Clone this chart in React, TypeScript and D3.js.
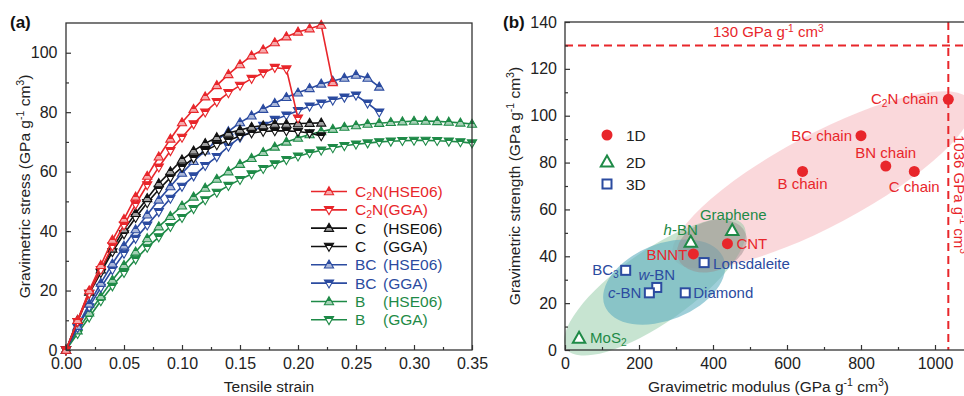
import { useEffect, useRef } from 'react';
import * as d3 from 'd3';

// ---------- panel (a): stress-strain curves ----------
const strain = [
  0, 0.01, 0.02, 0.03, 0.04, 0.05, 0.06, 0.07, 0.08, 0.09, 0.1, 0.11, 0.12, 0.13, 0.14, 0.15, 0.16, 0.17,
  0.18, 0.19, 0.2, 0.21, 0.22, 0.23, 0.24, 0.25, 0.26, 0.27, 0.28, 0.29, 0.3, 0.31, 0.32, 0.33, 0.34, 0.35,
];

const c2nHse = [0, 10, 20, 28.5, 37, 44, 51.5, 58.5, 65, 71, 76.5, 81, 85.2, 89, 92.7, 96, 99, 101, 103.4, 105.4, 107, 108.1, 109.3, 90];
const c2nGga = [0, 9.5, 19, 27, 35, 42, 49, 55.5, 61.5, 67, 71.5, 76, 80, 83.5, 86.5, 89, 91.3, 93.2, 95, 94.5, 78];
const cHse = [0, 10, 19.5, 27, 34, 40.5, 46, 51, 56, 60, 64, 67, 69.5, 71.5, 73, 74, 75, 75.5, 76, 76, 76.2, 76.3, 76.4];
const cGga = [0, 9.5, 19, 26, 33, 39, 44.5, 49.5, 54, 58, 61.5, 64.5, 67, 69, 70.5, 72, 73, 73.5, 73.7, 73.7, 73.5, 73, 72];
const bcHse = [0, 8, 15.5, 22.5, 29, 35, 40.5, 45.5, 50.5, 55, 59.5, 63.5, 67, 70.5, 73.5, 76.5, 78.8, 81, 83, 85, 86.5, 88, 89.5, 90.5, 91.5, 92.5, 91.5, 88.5];
const bcGga = [0, 7.5, 14.5, 21, 27, 32.5, 37.5, 42, 46.5, 51, 55, 58.5, 62, 65, 68.5, 71.5, 73.5, 75.5, 77.5, 79, 80.5, 82, 83, 84, 85, 85.7, 83, 80];
const bHse = [0, 6.5, 12.5, 18, 23.5, 28.5, 33, 37.5, 41.5, 45, 48.5, 51.5, 54.5, 57.5, 60, 62.5, 64.5, 66.5, 68.3, 70, 71.3, 72.5, 73.5, 74.3, 75, 75.5, 76, 76.3, 76.6, 76.8, 77, 77, 76.9, 76.7, 76.4, 76];
const bGga = [0, 5.5, 11, 16.5, 21.5, 26, 30.5, 34.5, 38, 41.5, 44.5, 47.5, 50.5, 53, 55.3, 57.3, 59.2, 61, 62.6, 64, 65.2, 66.3, 67.2, 68, 68.7, 69.2, 69.6, 70, 70.2, 70.4, 70.5, 70.5, 70.4, 70.2, 70, 69.6];

const xTicksA = [0, 0.05, 0.1, 0.15, 0.2, 0.25, 0.3, 0.35];
const xMinorA = [0.025, 0.075, 0.125, 0.175, 0.225, 0.275, 0.325];
const yTicksA = [0, 20, 40, 60, 80, 100];
const yMinorA = [10, 30, 50, 70, 90];

// ---------- panel (b): strength vs modulus ----------
const names1D = ['C_{2}N chain', 'BC chain', 'BN chain', 'C chain', 'B chain', 'CNT', 'BNNT'];
const modulus1D = [1036, 800, 867, 944, 642, 439, 347];
const strength1D = [107, 91.5, 78.5, 76.2, 76.2, 45.4, 41];

const names2D = ['Graphene', '*{h}-BN', 'MoS_{2}'];
const modulus2D = [452, 340, 38];
const strength2D = [51, 46, 5];

const names3D = ['Lonsdaleite', 'BC_{3}', '*{w}-BN', '*{c}-BN', 'Diamond'];
const modulus3D = [376, 164, 248, 228, 325];
const strength3D = [37.3, 34, 26.7, 24.4, 24.4];

const xTicksB = [0, 200, 400, 600, 800, 1000];
const xMinorB = [100, 300, 500, 700, 900, 1100];
const yTicksB = [0, 20, 40, 60, 80, 100, 120, 140];
const yMinorB = [10, 30, 50, 70, 90, 110, 130];

const strengthLimit = 130;
const modulusLimit = 1036;

const RED = '#e8262b';
const BLACK = '#111111';
const BLUE = '#2b4ba0';
const GREEN = '#1e8a47';
const FONT = '"Liberation Sans", Arial, Helvetica, sans-serif';

// label placement (dx, dy, anchor) for panel b points
const place1D: [number, number, string][] = [
  [-10, 5, 'end'], [-9, 5, 'end'], [0, -8, 'middle'], [0, 21, 'middle'], [0, 18, 'middle'], [9, 5, 'start'], [-6, 6, 'end'],
];
const place2D: [number, number, string][] = [[1, -11, 'middle'], [7, -7, 'end'], [11, 5, 'start']];
const place3D: [number, number, string][] = [[9, 6, 'start'], [-7, 5, 'end'], [0, -7, 'middle'], [-8, 5, 'end'], [8, 5, 'start']];

// rich text: ^{sup} _{sub} *{italic}
function rich(text: any, s: string, size: number) {
  const re = /([\^_*])\{([^}]*)\}/g;
  let last = 0;
  let shift = 0;
  let m: RegExpExecArray | null;
  const push = (t: string, kind: string) => {
    const ts = text.append('tspan').text(t);
    const target = kind === '^' ? -0.38 * size : kind === '_' ? 0.2 * size : 0;
    if (target !== shift) {
      ts.attr('dy', target - shift);
      shift = target;
    }
    if (kind === '^' || kind === '_') ts.attr('font-size', size * 0.68);
    if (kind === '*') ts.attr('font-style', 'italic');
  };
  while ((m = re.exec(s))) {
    if (m.index > last) push(s.slice(last, m.index), '');
    push(m[2], m[1]);
    last = re.lastIndex;
  }
  if (last < s.length) push(s.slice(last), '');
}

function styleAxis(g: any, size: number) {
  g.select('.domain').remove();
  g.selectAll('line').attr('stroke', '#333').attr('stroke-width', 1.2);
  g.selectAll('text').attr('font-size', size).attr('font-family', FONT).attr('fill', '#222');
}

const triUp = 'M0,-4.8L4.6,3.2L-4.6,3.2Z';
const triDown = 'M0,4.8L4.6,-3.2L-4.6,-3.2Z';

export default function App() {
  const svgRef = useRef<SVGSVGElement>(null);

  useEffect(() => {
    if (!svgRef.current) return;
    const svg = d3.select(svgRef.current);
    svg.selectAll('*').remove();
    svg.attr('font-family', FONT);
    const defs = svg.append('defs');

    // half-filled marker gradients
    const gradId = (c: string, kind: string) => `g-${kind}-${c.slice(1)}`;
    [RED, BLACK, BLUE, GREEN].forEach((c) => {
      const up = defs.append('linearGradient').attr('id', gradId(c, 'up')).attr('x1', 0).attr('y1', 0).attr('x2', 0).attr('y2', 1);
      up.append('stop').attr('offset', 0.55).attr('stop-color', c);
      up.append('stop').attr('offset', 0.55).attr('stop-color', d3.interpolateRgb(c, '#fff')(0.6));
      const dn = defs.append('linearGradient').attr('id', gradId(c, 'down')).attr('x1', 0).attr('y1', 0).attr('x2', 0).attr('y2', 1);
      dn.append('stop').attr('offset', 0.35).attr('stop-color', c);
      dn.append('stop').attr('offset', 0.35).attr('stop-color', '#fff');
    });

    // ================= panel (a) =================
    const xA = d3.scaleLinear().domain([0, 0.35]).range([66, 472]);
    const yA = d3.scaleLinear().domain([0, 110]).range([350, 23]);

    const seriesA = [
      { label: 'C_{2}N', method: '(HSE06)', values: c2nHse, color: RED, up: true, joined: true },
      { label: 'C_{2}N', method: '(GGA)', values: c2nGga, color: RED, up: false, joined: true },
      { label: 'C', method: '(HSE06)', values: cHse, color: BLACK, up: true, joined: false },
      { label: 'C', method: '(GGA)', values: cGga, color: BLACK, up: false, joined: false },
      { label: 'BC', method: '(HSE06)', values: bcHse, color: BLUE, up: true, joined: false },
      { label: 'BC', method: '(GGA)', values: bcGga, color: BLUE, up: false, joined: false },
      { label: 'B', method: '(HSE06)', values: bHse, color: GREEN, up: true, joined: false },
      { label: 'B', method: '(GGA)', values: bGga, color: GREEN, up: false, joined: false },
    ];

    const line = d3
      .line<number>()
      .x((_, i) => xA(strain[i]))
      .y((d) => yA(d));

    const marker = (g: any, x: number, y: number, color: string, up: boolean) => {
      g.append('path')
        .attr('d', up ? triUp : triDown)
        .attr('transform', `translate(${x},${y})`)
        .attr('fill', `url(#${gradId(color, up ? 'up' : 'down')})`)
        .attr('stroke', color)
        .attr('stroke-width', 1.1);
    };

    const plotA = svg.append('g');
    [...seriesA].reverse().forEach((s) => {
      const g = plotA.append('g');
      g.append('path')
        .attr('d', line(s.values))
        .attr('fill', 'none')
        .attr('stroke', s.color)
        .attr('stroke-width', 1.6);
      s.values.forEach((v, i) => marker(g, xA(strain[i]), yA(v), s.color, s.up));
    });

    // axes (a)
    svg.append('g').attr('transform', 'translate(0,350)')
      .call(d3.axisBottom(xA).tickValues(xTicksA).tickFormat(d3.format('.2f')).tickSizeInner(-5).tickSizeOuter(0).tickPadding(8))
      .call((g: any) => styleAxis(g, 16));
    svg.append('g').attr('transform', 'translate(0,350)')
      .call(d3.axisBottom(xA).tickValues(xMinorA).tickFormat(() => '').tickSizeInner(-3).tickSizeOuter(0))
      .call((g: any) => styleAxis(g, 16));
    svg.append('g').attr('transform', 'translate(66,0)')
      .call(d3.axisLeft(yA).tickValues(yTicksA).tickSizeInner(-5).tickSizeOuter(0).tickPadding(8.5))
      .call((g: any) => styleAxis(g, 16));
    svg.append('g').attr('transform', 'translate(66,0)')
      .call(d3.axisLeft(yA).tickValues(yMinorA).tickFormat(() => '').tickSizeInner(-3).tickSizeOuter(0))
      .call((g: any) => styleAxis(g, 16));
    svg.append('rect')
      .attr('x', xA(0)).attr('y', yA(110))
      .attr('width', xA(0.35) - xA(0)).attr('height', yA(0) - yA(110))
      .attr('fill', 'none').attr('stroke', '#333').attr('stroke-width', 1.3);

    // legend (a)
    const legA = svg.append('g');
    seriesA.forEach((s, i) => {
      const y = 191.5 + i * 18.33;
      legA.append('line').attr('x1', 311).attr('x2', 347).attr('y1', y).attr('y2', y)
        .attr('stroke', s.color).attr('stroke-width', 1.6);
      marker(legA, 329, y, s.color, s.up);
      const t = legA.append('text').attr('x', 355).attr('y', y + 5.5).attr('font-size', 15.5).attr('fill', s.color);
      if (s.joined) {
        rich(t, s.label + s.method, 15.5);
      } else {
        rich(t, s.label, 15.5);
        legA.append('text').attr('x', 383).attr('y', y + 5.5).attr('font-size', 15.5).attr('fill', s.color).text(s.method);
      }
    });

    svg.append('text').attr('x', xA(0.175)).attr('y', 392).attr('text-anchor', 'middle')
      .attr('font-size', 15.5).attr('fill', '#222').text('Tensile strain');
    const yTitleA = svg.append('text').attr('transform', `translate(30,${(yA(0) + yA(110)) / 2}) rotate(-90)`)
      .attr('text-anchor', 'middle').attr('font-size', 15.5).attr('fill', '#222');
    rich(yTitleA, 'Gravimetric stress (GPa g^{-1} cm^{3})', 15.5);
    svg.append('text').attr('x', 10).attr('y', 28).attr('font-size', 17).attr('font-weight', 'bold').attr('fill', '#111').text('(a)');

    // ================= panel (b) =================
    const xB = d3.scaleLinear().domain([0, 1100]).range([565, 972]);
    const yB = d3.scaleLinear().domain([0, 140]).range([350, 22]);

    const ellipses = [
      { cx: 695, cy: 72.6, rx: 168, ry: 46, rot: -28, fill: '#f4a9b0', op: 0.45 },
      { cx: 243, cy: 26.9, rx: 108, ry: 36, rot: -35, fill: '#8fcaa3', op: 0.5 },
      { cx: 268, cy: 29, rx: 64, ry: 38, rot: -22, fill: '#5fafc0', op: 0.6 },
      { cx: 397, cy: 44.4, rx: 36, ry: 25, rot: -20, fill: '#9a9090', op: 0.5 },
    ];
    const ellG = svg.append('g');
    ellipses.forEach((e) => {
      ellG.append('ellipse')
        .attr('transform', `translate(${xB(e.cx)},${yB(e.cy)}) rotate(${e.rot})`)
        .attr('rx', e.rx).attr('ry', e.ry)
        .attr('fill', e.fill).attr('fill-opacity', e.op);
    });

    // limit lines
    svg.append('line').attr('x1', xB(0)).attr('x2', xB(1100)).attr('y1', yB(strengthLimit)).attr('y2', yB(strengthLimit))
      .attr('stroke', RED).attr('stroke-width', 2).attr('stroke-dasharray', '8,5');
    svg.append('line').attr('x1', xB(modulusLimit)).attr('x2', xB(modulusLimit)).attr('y1', yB(140)).attr('y2', yB(0))
      .attr('stroke', RED).attr('stroke-width', 2).attr('stroke-dasharray', '8,5');
    const hl = svg.append('text').attr('x', 713).attr('y', yB(strengthLimit) - 8).attr('font-size', 15).attr('fill', RED);
    rich(hl, '130 GPa g^{-1} cm^{3}', 15);
    const vl = svg.append('text').attr('transform', `translate(${xB(modulusLimit) + 6},135) rotate(90)`)
      .attr('font-size', 15).attr('fill', RED);
    rich(vl, '1036 GPa g^{-1} cm^{3}', 15);

    const pts = svg.append('g');
    const label = (x: number, y: number, name: string, p: [number, number, string], color: string) => {
      const t = pts.append('text').attr('x', x + p[0]).attr('y', y + p[1]).attr('text-anchor', p[2])
        .attr('font-size', 15).attr('fill', color);
      rich(t, name, 15);
    };
    const circle = (g: any, x: number, y: number) =>
      g.append('circle').attr('cx', x).attr('cy', y).attr('r', 5.5).attr('fill', RED);
    const openTri = (g: any, x: number, y: number) =>
      g.append('path').attr('d', 'M0,-6.5L6.2,4.5L-6.2,4.5Z').attr('transform', `translate(${x},${y})`)
        .attr('fill', '#fff').attr('stroke', GREEN).attr('stroke-width', 2);
    const openSq = (g: any, x: number, y: number) =>
      g.append('rect').attr('x', x - 4.5).attr('y', y - 4.5).attr('width', 9).attr('height', 9)
        .attr('fill', '#fff').attr('stroke', BLUE).attr('stroke-width', 2);

    names1D.forEach((n, i) => {
      const x = xB(modulus1D[i]);
      const y = yB(strength1D[i]);
      circle(pts, x, y);
      label(x, y, n, place1D[i], RED);
    });
    names2D.forEach((n, i) => {
      const x = xB(modulus2D[i]);
      const y = yB(strength2D[i]);
      openTri(pts, x, y);
      label(x, y, n, place2D[i], GREEN);
    });
    names3D.forEach((n, i) => {
      const x = xB(modulus3D[i]);
      const y = yB(strength3D[i]);
      openSq(pts, x, y);
      label(x, y, n, place3D[i], BLUE);
    });

    // legend (b)
    const legB = svg.append('g');
    circle(legB, 607, 135);
    openTri(legB, 607, 162);
    openSq(legB, 607, 184);
    ['1D', '2D', '3D'].forEach((t, i) => {
      legB.append('text').attr('x', 626).attr('y', [135, 162, 184][i] + 5.5).attr('font-size', 15.5).attr('fill', '#222').text(t);
    });

    // axes (b)
    svg.append('g').attr('transform', 'translate(0,350)')
      .call(d3.axisBottom(xB).tickValues(xTicksB).tickFormat(d3.format('d')).tickSizeInner(-5).tickSizeOuter(0).tickPadding(8))
      .call((g: any) => styleAxis(g, 16));
    svg.append('g').attr('transform', 'translate(0,350)')
      .call(d3.axisBottom(xB).tickValues(xMinorB).tickFormat(() => '').tickSizeInner(-3).tickSizeOuter(0))
      .call((g: any) => styleAxis(g, 16));
    svg.append('g').attr('transform', 'translate(565,0)')
      .call(d3.axisLeft(yB).tickValues(yTicksB).tickSizeInner(-5).tickSizeOuter(0).tickPadding(8))
      .call((g: any) => styleAxis(g, 16));
    svg.append('g').attr('transform', 'translate(565,0)')
      .call(d3.axisLeft(yB).tickValues(yMinorB).tickFormat(() => '').tickSizeInner(-3).tickSizeOuter(0))
      .call((g: any) => styleAxis(g, 16));
    svg.append('rect')
      .attr('x', xB(0)).attr('y', yB(140))
      .attr('width', xB(1100) - xB(0)).attr('height', yB(0) - yB(140))
      .attr('fill', 'none').attr('stroke', '#333').attr('stroke-width', 1.3);

    const xTitleB = svg.append('text').attr('x', (xB(0) + xB(1100)) / 2).attr('y', 392).attr('text-anchor', 'middle')
      .attr('font-size', 15.5).attr('fill', '#222');
    rich(xTitleB, 'Gravimetric modulus (GPa g^{-1} cm^{3})', 15.5);
    const yTitleB = svg.append('text').attr('transform', `translate(520,${(yB(0) + yB(140)) / 2}) rotate(-90)`)
      .attr('text-anchor', 'middle').attr('font-size', 15.5).attr('fill', '#222');
    rich(yTitleB, 'Gravimetric strength (GPa g^{-1} cm^{3})', 15.5);
    svg.append('text').attr('x', 503).attr('y', 28).attr('font-size', 17).attr('font-weight', 'bold').attr('fill', '#111').text('(b)');
  }, []);

  return (
    <svg
      ref={svgRef}
      width={964}
      height={396}
      style={{ position: 'absolute', left: 0, top: 0, background: '#fff', overflow: 'hidden' }}
    />
  );
}
